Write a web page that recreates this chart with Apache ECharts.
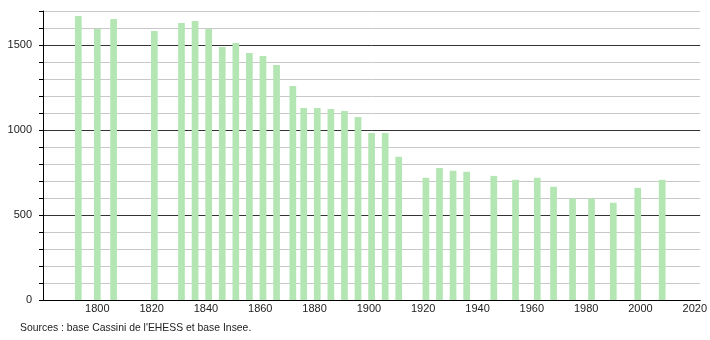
<!DOCTYPE html>
<html><head><meta charset="utf-8">
<script src="https://cdn.jsdelivr.net/npm/echarts@6/dist/echarts.min.js"></script>
<style>html,body{margin:0;padding:0;background:#fff}#c{width:710px;height:340px}</style>
</head><body><div id="c"></div>
<script>
const years = [1793,1800,1806,1821,1831,1836,1841,1846,1851,1856,1861,1866,1872,1876,1881,1886,1891,1896,1901,1906,1911,1921,1926,1931,1936,1946,1954,1962,1968,1975,1982,1990,1999,2008];
const population = [1670,1596,1653,1582,1629,1641,1596,1488,1512,1453,1435,1382,1259,1130,1130,1124,1112,1077,983,983,842,719,777,760,754,730,707,719,666,597,597,572,660,707];
const yearLabels = [1800,1820,1840,1860,1880,1900,1920,1940,1960,1980,2000,2020];
const popLabels = [0,500,1000,1500];
const sourceText = "Sources : base Cassini de l'EHESS et base Insee.";

const chart = echarts.init(document.getElementById('c'), null, {renderer:'canvas'});
const font = 'Liberation Sans, Arial, sans-serif';
chart.setOption({
  animation:false,
  grid:{left:43,right:9,top:11,bottom:40,containLabel:false},
  xAxis:{type:'value',min:1780,max:2022,interval:20,
    axisLine:{show:true,lineStyle:{color:'#000',width:1}},
    axisTick:{show:false},
    splitLine:{show:false},
    axisLabel:{margin:3,color:'#222',fontSize:11,fontFamily:font,showMinLabel:true,showMaxLabel:true,
      formatter:v=>yearLabels.indexOf(v)>=0?String(v):''}
  },
  yAxis:{type:'value',min:0,max:1700,interval:100,
    axisLine:{show:true,lineStyle:{color:'#000',width:1}},
    axisTick:{show:true,length:4,lineStyle:{color:'#000'}},
    splitLine:{show:true,lineStyle:{color:['#333','#c8c8c8','#c8c8c8','#c8c8c8','#c8c8c8'],width:1}},
    axisLabel:{margin:11,color:'#222',fontSize:11,fontFamily:font,
      formatter:v=>popLabels.indexOf(v)>=0?String(v):''}
  },
  graphic:[{type:'text',left:20,top:323.5,style:{text:sourceText,fill:'#222',font:'10.4px '+font}}],
  series:[{type:'bar',barWidth:6.7,data:years.map((y,i)=>[y,population[i]]),
    itemStyle:{color:'#b3e6b3'}}]
});
</script></body></html>
